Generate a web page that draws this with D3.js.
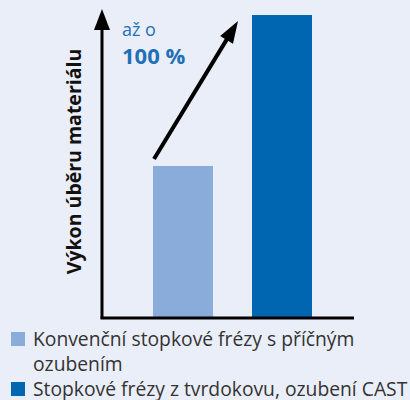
<!DOCTYPE html>
<html>
<head>
<meta charset="utf-8">
<script src="https://cdn.jsdelivr.net/npm/d3@7"></script>
<style>
  html, body { margin: 0; padding: 0; background: #eaeef8; }
  svg { display: block; font-family: "Open Sans", "Noto Sans", sans-serif; }
</style>
</head>
<body>
<svg id="chart" width="410" height="400"></svg>
<script>
// Material removal rate: conventional end mills vs. carbide end mills with CAST tooth form
const categories = ["Konvenční", "CAST"];
const values = [100, 200];
const colors = ["#8aacdb", "#0066b1"];
const legendLines = [
  ["Konvenční stopkové frézy s příčným", "ozubením"],
  ["Stopkové frézy z tvrdokovu, ozubení CAST"]
];
const yLabel = "Výkon úběru materiálu";
const prefixText = "až o";

const svg = d3.select("#chart");

const x = d3.scaleBand()
  .domain(categories)
  .range([103.5, 361.5])
  .paddingInner(0.394)
  .paddingOuter(0.5);

const y = d3.scaleLinear()
  .domain([0, 200])
  .range([317, 15]);

// bars
svg.selectAll("rect.bar")
  .data(values)
  .join("rect")
  .attr("class", "bar")
  .attr("x", (d, i) => x(categories[i]))
  .attr("y", d => y(d))
  .attr("width", x.bandwidth())
  .attr("height", d => y(0) - y(d))
  .attr("fill", (d, i) => colors[i]);

// axes: plain black lines with an arrowhead on the value axis
const axisX = 102;
svg.append("line")
  .attr("x1", axisX).attr("x2", axisX)
  .attr("y1", y(0) + 1.5).attr("y2", 26)
  .attr("stroke", "#000").attr("stroke-width", 3);
svg.append("path")
  .attr("d", `M${axisX},9 L${axisX - 8},30 L${axisX + 8},30 Z`)
  .attr("fill", "#000");
svg.append("line")
  .attr("x1", axisX - 1.5).attr("x2", 354)
  .attr("y1", y(0) + 1).attr("y2", y(0) + 1)
  .attr("stroke", "#000").attr("stroke-width", 3);

// y-axis title
svg.append("text")
  .attr("transform", `translate(81, ${(45 + 278) / 2}) rotate(-90)`)
  .attr("text-anchor", "middle")
  .attr("font-size", 19.5)
  .attr("font-weight", "bold")
  .attr("fill", "#111")
  .text(yLabel);

// growth arrow from the first bar to the second
const x0 = x(categories[0]) + 1, y0 = y(values[0]) - 7;
const x1 = x(categories[1]) - 14, y1 = y(values[1]) + 6;
const ang = Math.atan2(y1 - y0, x1 - x0);
const headLen = 22, headHalf = 7.5;
const bx = x1 - headLen * Math.cos(ang), by = y1 - headLen * Math.sin(ang);
const nx = -Math.sin(ang), ny = Math.cos(ang);
svg.append("line")
  .attr("x1", x0).attr("y1", y0)
  .attr("x2", bx + 4 * Math.cos(ang)).attr("y2", by + 4 * Math.sin(ang))
  .attr("stroke", "#000").attr("stroke-width", 4);
svg.append("path")
  .attr("d", `M${x1},${y1} L${bx + nx * headHalf},${by + ny * headHalf} L${bx - nx * headHalf},${by - ny * headHalf} Z`)
  .attr("fill", "#000");

// increase annotation
const pct = Math.round((values[1] - values[0]) / values[0] * 100);
svg.append("text")
  .attr("x", 122).attr("y", 36)
  .attr("font-size", 18)
  .attr("fill", "#1f70b8")
  .text(prefixText);
svg.append("text")
  .attr("x", 122).attr("y", 64)
  .attr("font-size", 22)
  .attr("font-weight", "bold")
  .attr("fill", "#1f70b8")
  .text(`${pct} %`);

// legend
const legendTops = [332, 382];
const lineGap = 25;
legendLines.forEach((lines, i) => {
  svg.append("rect")
    .attr("x", 11).attr("y", legendTops[i])
    .attr("width", 14).attr("height", 14)
    .attr("fill", colors[i]);
  lines.forEach((t, j) => {
    svg.append("text")
      .attr("x", 33).attr("y", legendTops[i] + 14 + j * lineGap)
      .attr("font-size", 19.3)
      .attr("fill", "#333")
      .text(t);
  });
});
</script>
</body>
</html>
